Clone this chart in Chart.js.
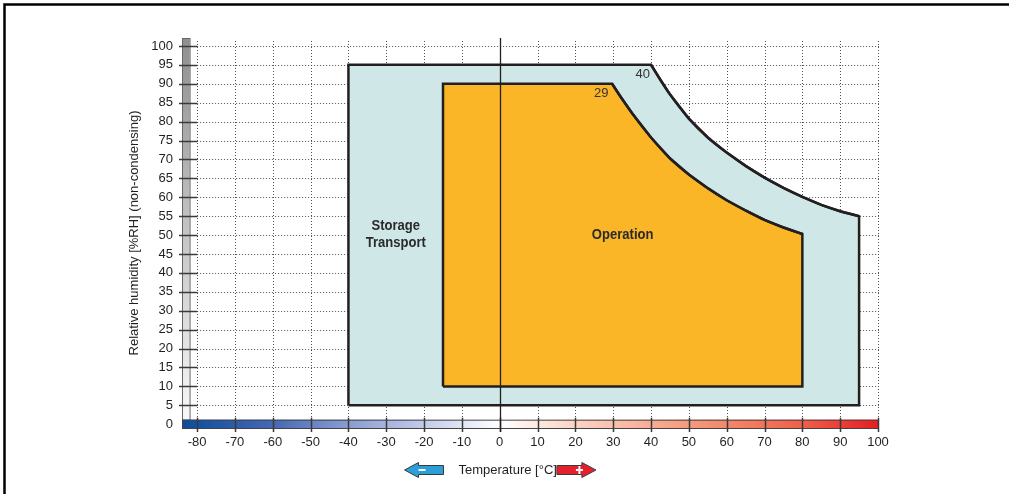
<!DOCTYPE html>
<html lang="en">
<head>
<meta charset="UTF-8">
<title>Temperature / humidity diagram</title>
<script src="https://cdn.jsdelivr.net/npm/chart.js"></script>
<style>
  html, body { margin: 0; padding: 0; background: #fff; }
  canvas { display: block; }
</style>
</head>
<body>
<canvas id="chart" width="1009" height="494"></canvas>
<script>
// storage / transport envelope (closed outline)
const storageT  = [-40, -40, 40, 42.5, 45, 50, 55, 60, 65, 70, 75, 80, 85, 90, 95, 95, -40];
const storageRH = [5, 95, 95, 91.0, 87.2, 80.8, 75.8, 71.8, 68.3, 65.2, 62.5, 60.1, 58.0, 56.3, 55, 5, 5];
// operation envelope (closed outline)
const operationT  = [-15, -15, 29.7, 32, 35, 40, 45, 50, 55, 60, 65, 70, 75, 80, 80, -15];
const operationRH = [10, 90, 90, 86.5, 82.2, 75.8, 70.3, 66.0, 62.4, 59.2, 56.5, 54.0, 52.0, 50.3, 10, 10];

const xTicks = [-80, -70, -60, -50, -40, -30, -20, -10, 0, 10, 20, 30, 40, 50, 60, 70, 80, 90, 100];
const yTicks = [0, 5, 10, 15, 20, 25, 30, 35, 40, 45, 50, 55, 60, 65, 70, 75, 80, 85, 90, 95, 100];

const storageCorner = 40;
const operationCorner = 29;

const ink = '#231f20';
const toPoints = (xs, ys) => xs.map((x, i) => ({ x: x, y: ys[i] }));
// the curved part of each outline (corner to right-hand edge)
const storageCurve = toPoints(storageT.slice(2, 15), storageRH.slice(2, 15));
const operationCurve = toPoints(operationT.slice(2, 14), operationRH.slice(2, 14));

function arrow(ctx, x0, x1, cy, color, sign) {
  // x0 = tip, x1 = tail
  const dir = x1 > x0 ? 1 : -1;
  const head = 14 * dir;
  ctx.save();
  ctx.beginPath();
  ctx.moveTo(x0, cy);
  ctx.lineTo(x0 + head, cy - 7.5);
  ctx.lineTo(x0 + head, cy - 4.5);
  ctx.lineTo(x1, cy - 4.5);
  ctx.lineTo(x1, cy + 4.5);
  ctx.lineTo(x0 + head, cy + 4.5);
  ctx.lineTo(x0 + head, cy + 7.5);
  ctx.closePath();
  ctx.fillStyle = color;
  ctx.fill();
  ctx.strokeStyle = '#3a3a3a';
  ctx.lineWidth = 1;
  ctx.stroke();
  ctx.fillStyle = '#fff';
  const sx = x0 + head + 3 * dir;
  ctx.fillRect(sx - 3, cy - 1, 7, 2);
  if (sign === '+') ctx.fillRect(sx - 0.5, cy - 4, 2, 8);
  ctx.restore();
}

function narrowText(ctx, text, x, y) {
  ctx.save();
  ctx.translate(x, y);
  ctx.scale(0.87, 1);
  ctx.fillText(text, 0, 0);
  ctx.restore();
}

const decor = {
  id: 'decor',
  beforeDatasetsDraw(chart) {
    const { ctx, chartArea: a, scales: { x, y } } = chart;
    ctx.save();
    // dotted grid
    ctx.strokeStyle = '#505050';
    ctx.lineWidth = 1;
    ctx.setLineDash([1, 2]);
    xTicks.forEach(v => {
      if (v === 0) return;
      const px = Math.round(x.getPixelForValue(v)) + 0.5;
      ctx.beginPath();
      ctx.moveTo(px, a.top + 3);
      ctx.lineTo(px, y.getPixelForValue(1.5));
      ctx.stroke();
    });
    yTicks.forEach(v => {
      if (v === 0) return;
      const py = Math.round(y.getPixelForValue(v)) + 0.5;
      ctx.beginPath();
      ctx.moveTo(x.getPixelForValue(-80), py);
      ctx.lineTo(x.getPixelForValue(100) + 1, py);
      ctx.stroke();
    });
    ctx.setLineDash([]);

    // grey humidity bar
    const gx0 = a.left, gx1 = x.getPixelForValue(-82);
    const gy0 = a.top, gy1 = y.getPixelForValue(1.2);
    let g = ctx.createLinearGradient(0, gy0, 0, gy1);
    g.addColorStop(0, '#8f8f8f');
    g.addColorStop(1, '#f8f8f8');
    ctx.fillStyle = g;
    ctx.fillRect(gx0, gy0, gx1 - gx0, gy1 - gy0);
    ctx.strokeStyle = '#666';
    ctx.lineWidth = 1;
    ctx.strokeRect(gx0 + 0.5, gy0 + 0.5, gx1 - gx0, gy1 - gy0);

    // temperature colour bar
    const bx0 = a.left, bx1 = x.getPixelForValue(100);
    const by0 = y.getPixelForValue(1.2), by1 = a.bottom;
    g = ctx.createLinearGradient(bx0, 0, bx1, 0);
    const stop = v => (x.getPixelForValue(v) - bx0) / (bx1 - bx0);
    g.addColorStop(0, '#0a4c9e');
    g.addColorStop(stop(-60), '#4568b3');
    g.addColorStop(stop(-40), '#8a9cd3');
    g.addColorStop(stop(-20), '#c3cbea');
    g.addColorStop(stop(0), '#ffffff');
    g.addColorStop(stop(20), '#fcd3c4');
    g.addColorStop(stop(50), '#f69a7d');
    g.addColorStop(stop(80), '#f06048');
    g.addColorStop(1, '#e81c24');
    ctx.fillStyle = g;
    ctx.fillRect(bx0, by0, bx1 - bx0, by1 - by0);
    ctx.strokeStyle = '#444';
    ctx.strokeRect(bx0 + 0.5, by0 + 0.5, bx1 - bx0, by1 - by0);

    // tick marks
    ctx.strokeStyle = '#3a3a3a';
    ctx.lineWidth = 1.5;
    yTicks.forEach(v => {
      if (v === 0) return;
      const py = Math.round(y.getPixelForValue(v)) + 0.5;
      ctx.beginPath();
      ctx.moveTo(a.left - 3, py);
      ctx.lineTo(x.getPixelForValue(-80), py);
      ctx.stroke();
    });
    xTicks.forEach(v => {
      const px = Math.round(x.getPixelForValue(v)) + 0.5;
      ctx.beginPath();
      ctx.moveTo(px, by0 - 2);
      ctx.lineTo(px, a.bottom + 4);
      ctx.stroke();
    });
    ctx.restore();
  },
  afterDatasetsDraw(chart) {
    const { ctx, chartArea: a, scales: { x, y } } = chart;
    ctx.save();
    // 0 °C line
    const zx = Math.round(x.getPixelForValue(0)) + 0.5;
    ctx.strokeStyle = ink;
    ctx.lineWidth = 1.3;
    ctx.beginPath();
    ctx.moveTo(zx, a.top);
    ctx.lineTo(zx, a.bottom + 4);
    ctx.stroke();

    // corner values
    ctx.fillStyle = '#333';
    ctx.font = '13px "Liberation Sans", Arial, sans-serif';
    ctx.textAlign = 'right';
    ctx.textBaseline = 'top';
    ctx.fillText(String(storageCorner), x.getPixelForValue(storageCorner) - 1, y.getPixelForValue(95) + 3);
    ctx.fillText(String(operationCorner), x.getPixelForValue(operationCorner) - 1, y.getPixelForValue(90) + 3);

    // region names
    ctx.fillStyle = '#2a2a2a';
    ctx.font = 'bold 15px "Liberation Sans", Arial, sans-serif';
    ctx.textAlign = 'center';
    ctx.textBaseline = 'middle';
    const sx = x.getPixelForValue((Math.min(...storageT) + Math.min(...operationT)) / 2);
    const my = y.getPixelForValue(50);
    narrowText(ctx, 'Storage', sx, my - 9);
    narrowText(ctx, 'Transport', sx, my + 8);
    const ox = x.getPixelForValue((Math.min(...operationT) + Math.max(...operationT)) / 2);
    narrowText(ctx, 'Operation', ox, my);

    // x axis title with arrows
    ctx.fillStyle = ink;
    ctx.font = '13px "Liberation Sans", Arial, sans-serif';
    ctx.textAlign = 'left';
    const tx = zx - 42, ty = 470;
    ctx.fillText('Temperature [°C]', tx, ty);
    const tw = ctx.measureText('Temperature [°C]').width;
    arrow(ctx, tx - 54, tx - 15, ty, '#2a9fd8', '-');
    arrow(ctx, tx + tw + 39, tx + tw, ty, '#e4202e', '+');

    // frame
    ctx.strokeStyle = '#000';
    ctx.lineWidth = 2.5;
    ctx.beginPath();
    ctx.moveTo(4.5, chart.height);
    ctx.lineTo(4.5, 4.5);
    ctx.lineTo(chart.width, 4.5);
    ctx.stroke();
    ctx.restore();
  }
};

Chart.defaults.font.family = '"Liberation Sans", Arial, sans-serif';
Chart.defaults.font.size = 13;
Chart.defaults.color = ink;

const outline = {
  showLine: true,
  borderColor: ink,
  borderWidth: 2.5,
  borderJoinStyle: 'miter',
  pointRadius: 0
};

new Chart(document.getElementById('chart'), {
  type: 'scatter',
  data: {
    datasets: [
      Object.assign({}, outline, {
        data: toPoints(storageT, storageRH),
        fill: 'shape',
        backgroundColor: '#cfe8e7',
        tension: 0,
        order: 4
      }),
      Object.assign({}, outline, {
        data: storageCurve,
        fill: false,
        cubicInterpolationMode: 'monotone',
        order: 3
      }),
      Object.assign({}, outline, {
        data: toPoints(operationT, operationRH),
        fill: 'shape',
        backgroundColor: '#fbb627',
        tension: 0,
        order: 2
      }),
      Object.assign({}, outline, {
        data: operationCurve,
        fill: false,
        cubicInterpolationMode: 'monotone',
        order: 1
      })
    ]
  },
  options: {
    responsive: false,
    animation: false,
    layout: { padding: { left: 124, top: 38, right: 131, bottom: 0 } },
    plugins: { legend: { display: false }, tooltip: { enabled: false } },
    scales: {
      x: {
        type: 'linear',
        min: -84,
        max: 100,
        afterBuildTicks: s => { s.ticks = xTicks.map(v => ({ value: v })); },
        afterFit: s => { s.height = 66; },
        grid: { display: false, drawTicks: false },
        border: { display: false },
        ticks: { padding: 7, maxRotation: 0, autoSkip: false }
      },
      y: {
        type: 'linear',
        min: -1,
        max: 102.1,
        afterBuildTicks: s => { s.ticks = yTicks.map(v => ({ value: v })); },
        afterFit: s => { s.width = 58; },
        grid: { display: false, drawTicks: false },
        border: { display: false },
        ticks: { padding: 9, autoSkip: false },
        title: {
          display: true,
          text: 'Relative humidity [%RH] (non-condensing)',
          padding: { top: 3, bottom: 0 }
        }
      }
    }
  },
  plugins: [decor]
});
</script>
</body>
</html>
